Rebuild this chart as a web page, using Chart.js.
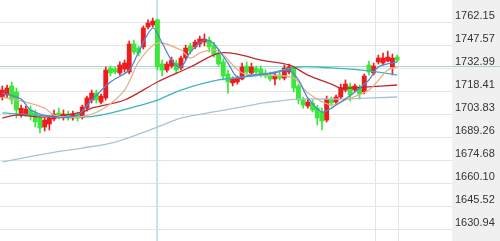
<!DOCTYPE html>
<html>
<head>
<meta charset="utf-8">
<script src="https://cdn.jsdelivr.net/npm/chart.js@4.4.1/dist/chart.umd.min.js"></script>
<style>
body { margin: 0; background: #fff; }
#wrap { width: 500px; height: 241px; }
</style>
</head>
<body>
<div id="wrap"><canvas id="kChart"></canvas></div>
<script>
// candle data, one entry per bar
const opens = [1715.1,1716.4,1722.1,1718.3,1703.7,1704.3,1706.9,1705.0,1701.8,1696.1,
	1698.0,1701.2,1705.0,1702.4,1704.3,1701.8,1704.3,1702.4,1708.1,1713.2,
	1717.6,1711.9,1714.5,1733.5,1732.8,1730.3,1732.8,1730.9,1748.7,1746.1,
	1746.8,1759.4,1760.7,1763.9,1736.0,1732.2,1734.7,1736.6,1733.5,1739.8,
	1747.4,1746.8,1748.7,1749.9,1751.2,1748.0,1742.9,1737.3,1729.7,1724.0,
	1724.6,1726.5,1734.7,1730.3,1733.5,1732.8,1730.3,1729.0,1726.5,1729.0,
	1727.1,1730.9,1733.5,1722.1,1713.8,1709.4,1711.3,1708.1,1705.6,1700.5,
	1713.8,1711.9,1715.1,1719.5,1722.1,1719.5,1720.8,1718.3,1735.4,1730.3,
	1737.3,1736.6,1737.9,1734.1,1740.4];
const closes = [1719.5,1720.8,1713.2,1706.9,1708.1,1707.5,1703.7,1699.3,1695.5,1700.5,
	1701.8,1704.3,1702.4,1704.3,1701.8,1704.3,1701.8,1708.8,1714.5,1717.6,
	1713.2,1715.7,1732.2,1730.3,1730.9,1735.4,1736.6,1748.7,1743.6,1742.9,
	1758.8,1762.0,1763.2,1734.1,1732.2,1736.0,1738.5,1732.2,1739.8,1746.1,
	1744.2,1749.9,1751.8,1751.8,1746.8,1741.7,1736.0,1728.4,1724.6,1726.5,
	1727.1,1734.1,1730.9,1734.1,1730.9,1729.0,1728.4,1726.5,1729.0,1727.1,
	1733.5,1734.1,1720.8,1713.2,1710.0,1711.9,1706.9,1701.8,1699.9,1713.8,
	1711.3,1715.1,1720.8,1723.3,1716.4,1722.1,1717.0,1728.4,1730.9,1734.7,
	1739.8,1739.8,1740.4,1739.8,1738.5];
const highs = [1722.1,1722.7,1724.6,1720.8,1710.0,1709.4,1709.4,1706.9,1703.7,1701.8,
	1703.1,1706.9,1708.1,1706.9,1706.2,1706.2,1705.6,1710.0,1715.7,1719.5,
	1719.5,1717.0,1734.1,1734.7,1734.1,1737.3,1738.5,1750.6,1751.2,1747.4,
	1760.1,1763.9,1765.1,1764.5,1738.5,1737.3,1740.4,1738.5,1741.0,1748.0,
	1749.3,1751.2,1753.7,1755.0,1753.1,1749.9,1744.9,1739.2,1732.2,1727.8,
	1728.4,1736.6,1737.3,1736.6,1734.7,1734.7,1732.2,1730.9,1730.9,1730.9,
	1735.4,1736.0,1734.7,1723.3,1715.1,1713.8,1713.2,1710.0,1708.1,1715.7,
	1715.1,1716.4,1723.3,1725.9,1724.0,1723.3,1722.7,1729.7,1737.9,1736.6,
	1741.7,1742.9,1744.2,1742.3,1741.7];
const lows = [1713.2,1714.5,1710.7,1701.8,1702.4,1703.1,1700.5,1696.1,1692.3,1693.6,
	1694.2,1699.9,1701.2,1700.5,1700.5,1700.5,1699.9,1701.2,1706.2,1711.3,
	1711.3,1710.7,1713.2,1728.4,1729.7,1729.0,1730.9,1729.7,1742.3,1741.0,
	1745.5,1758.2,1759.4,1732.2,1728.4,1730.9,1733.5,1729.7,1732.2,1738.5,
	1742.3,1745.5,1746.8,1747.4,1743.6,1740.4,1734.7,1725.9,1717.6,1722.1,
	1723.3,1725.9,1729.0,1729.0,1729.0,1727.8,1727.1,1725.2,1722.7,1725.9,
	1725.9,1729.7,1718.3,1710.7,1708.1,1708.1,1705.6,1697.4,1694.2,1699.3,
	1709.4,1710.7,1713.8,1718.3,1712.6,1718.3,1713.8,1717.0,1729.0,1729.0,
	1736.0,1735.4,1737.3,1729.0,1737.3];

// moving average lines, read at some bar indices
const ma5Idx = [0,4,6,11,16,19,23,27,29,32,34,36,38,40,43,45,48,50,53,58,61,63,65,68,70,72,75,78,80,84];
const ma5Val = [1717.6,1713.8,1706.9,1702.4,1703.7,1713.2,1724.6,1732.2,1743.6,1758.8,1749.3,1738.5,1734.1,1743.6,1751.2,1748.7,1736.6,1727.8,1729.0,1730.3,1732.2,1725.9,1714.5,1705.6,1708.1,1711.9,1718.3,1725.9,1734.1,1737.3];
const ma10Idx = [0,5,9,11,16,21,26,29,33,38,40,42,45,47,51,56,62,65,70,73,78,82,84];
const ma10Val = [1715.1,1711.9,1708.1,1703.7,1702.4,1706.9,1719.5,1737.3,1749.3,1744.9,1739.8,1742.9,1744.9,1741.7,1730.3,1729.0,1727.1,1717.6,1710.0,1713.2,1719.5,1732.2,1734.1];
const ma20Idx = [0,3,9,17,19,26,33,40,46,50,55,61,65,70,72,77,84];
const ma20Val = [1701.8,1703.7,1702.4,1705.6,1708.1,1713.2,1724.6,1734.1,1742.9,1742.3,1738.5,1735.4,1729.0,1723.3,1720.8,1721.4,1722.7];
const ma60Idx = [0,7,17,21,28,33,38,46,55,63,70,78,84];
const ma60Val = [1705.0,1703.7,1702.4,1703.7,1708.8,1713.2,1719.5,1725.9,1729.0,1734.1,1733.5,1731.6,1729.0];
const ma120Idx = [0,10,17,24,33,38,46,53,56,63,72,84];
const ma120Val = [1674.0,1679.6,1682.8,1686.6,1696.1,1701.8,1706.2,1710.0,1711.6,1713.8,1713.8,1715.1];

const tickValues = [1762.15,1747.57,1732.99,1718.41,1703.83,1689.26,1674.68,1660.10,1645.52,1630.94];
const lastPrice = 1735.05;

const upColor = "#ee1c1c";
const downColor = "#3ae83a";
const candleColors = opens.map((o, i) => (closes[i] >= o ? upColor : downColor));
const bodies = opens.map((o, i) => ({ x: i, y: [o, closes[i]] }));
const wicks = lows.map((l, i) => ({ x: i, y: [l, highs[i]] }));
const maLine = (idx, vals) => idx.map((x, i) => ({ x: x, y: vals[i] }));

const lineSet = (data, color) => ({
	type: "line",
	data: data,
	borderColor: color,
	borderWidth: 1.3,
	pointRadius: 0,
	tension: 0.3,
	order: 0,
});

const decorPlugin = {
	id: "decor",
	beforeDraw(chart) {
		const { ctx, chartArea } = chart;
		ctx.save();
		ctx.fillStyle = "#f0f0f0";
		ctx.fillRect(chartArea.right, 0, chart.width - chartArea.right, chart.height);
		ctx.restore();
	},
	beforeDatasetsDraw(chart, args, opts) {
		const { ctx, chartArea, scales } = chart;
		ctx.save();
		ctx.strokeStyle = "#e4e4e4";
		ctx.lineWidth = 1;
		opts.vGrid.forEach((v) => {
			const x = Math.round(scales.x.getPixelForValue(v)) + 0.5;
			ctx.beginPath();
			ctx.moveTo(x, chartArea.top);
			ctx.lineTo(x, chartArea.bottom);
			ctx.stroke();
		});
		ctx.strokeStyle = "#c4e6ea";
		ctx.lineWidth = 2;
		const cx = Math.round(scales.x.getPixelForValue(opts.crossX));
		ctx.beginPath();
		ctx.moveTo(cx, chartArea.top);
		ctx.lineTo(cx, chartArea.bottom);
		ctx.stroke();
		ctx.strokeStyle = "#9ed8d8";
		ctx.lineWidth = 1;
		const py = Math.round(scales.y.getPixelForValue(lastPrice)) + 0.5;
		ctx.beginPath();
		ctx.moveTo(0, py);
		ctx.lineTo(chart.width, py);
		ctx.stroke();
		ctx.restore();
	},
};

new Chart(document.getElementById("kChart"), {
	type: "bar",
	data: {
		datasets: [
			lineSet(maLine(ma5Idx, ma5Val), "#4f86d6"),
			lineSet(maLine(ma10Idx, ma10Val), "#e2b28e"),
			lineSet(maLine(ma20Idx, ma20Val), "#c02a2e"),
			lineSet(maLine(ma60Idx, ma60Val), "#3cb4c2"),
			lineSet(maLine(ma120Idx, ma120Val), "#a9c3d6"),
			{ type: "bar", data: bodies, backgroundColor: candleColors, barThickness: 4.2, grouped: false, minBarLength: 1, order: 1 },
			{ type: "bar", data: wicks, backgroundColor: candleColors, barThickness: 1, grouped: false, order: 2 },
		],
	},
	options: {
		animation: false,
		responsive: true,
		maintainAspectRatio: false,
		events: [],
		layout: { padding: 0 },
		plugins: {
			legend: { display: false },
			tooltip: { enabled: false },
			decor: { vGrid: [79.3, 84.2], crossX: 32.9 },
		},
		scales: {
			x: {
				type: "linear",
				min: -0.5,
				max: 95.67,
				offset: false,
				display: false,
			},
			y: {
				position: "right",
				min: 1623.95,
				max: 1776.52,
				afterBuildTicks: (axis) => {
					axis.ticks = tickValues.map((v) => ({ value: v }));
				},
				afterFit: (axis) => {
					axis.width = 48;
					axis.paddingTop = 0;
					axis.paddingBottom = 0;
				},
				grid: { color: "#e4e4e4", drawTicks: false, lineWidth: 1 },
				border: { display: false },
				ticks: {
					autoSkip: false,
					padding: 3,
					labelOffset: -7,
					color: "#333",
					font: { family: "Liberation Sans", size: 11 },
					callback: (v) => Number(v).toFixed(2),
				},
			},
		},
	},
	plugins: [decorPlugin],
});
</script>
</body>
</html>
